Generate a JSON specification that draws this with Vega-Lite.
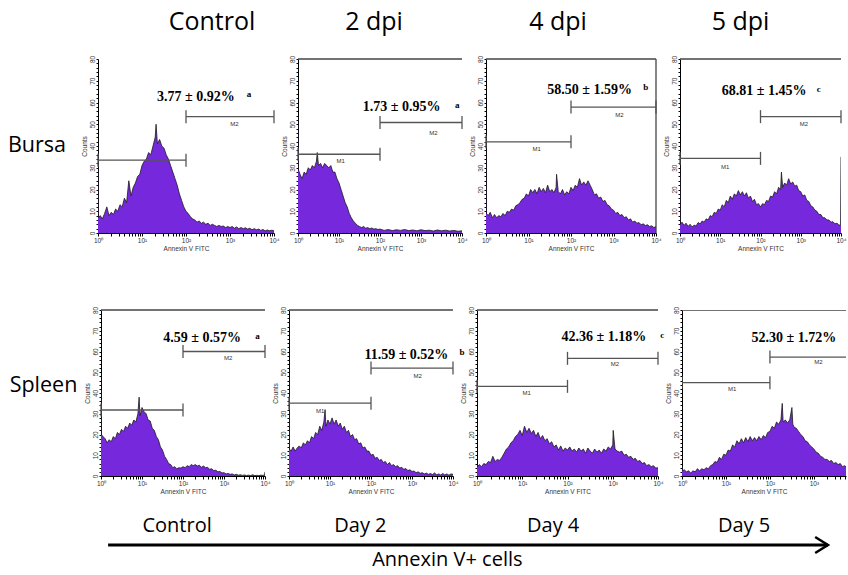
{
"$schema": "https://vega.github.io/schema/vega-lite/v6.json",
"background": "white",
"padding": {"left": 0, "top": 10, "right": 0, "bottom": 0},
"spacing": 21,
"vconcat": [
{"spacing": 54, "vconcat": [
{"bounds": "flush", "spacing": 24, "hconcat": [
{"width": 74, "height": 174, "data": {"values": [{"t": "Bursa"}]}, "mark": {"type": "text", "font": "Open Sans", "fontSize": 21.5, "color": "#000"}, "encoding": {"text": {"field": "t"}}},
{"width": 176, "height": 174, "title": {"text": "Control", "dx": 26},
"encoding": {"x": {"field": "e", "type": "quantitative", "scale": {"domain": [0, 4], "nice": false, "zero": false}, "axis": {"title": "Annexin V FITC", "values": [0,0.301,0.477,0.602,0.699,0.778,0.845,0.903,0.954,1,1.301,1.477,1.602,1.699,1.778,1.845,1.903,1.954,2,2.301,2.477,2.602,2.699,2.778,2.845,2.903,2.954,3,3.301,3.477,3.602,3.699,3.778,3.845,3.903,3.954,4], "labelExpr": "datum.value % 1 == 0 ? '10' + ['⁰','¹','²','³','⁴'][datum.value] : ''"}},
"y": {"field": "y", "type": "quantitative", "scale": {"domain": [0, 80], "nice": false}, "axis": {"title": "Counts", "values": [0,2,4,6,8,10,12,14,16,18,20,22,24,26,28,30,32,34,36,38,40,42,44,46,48,50,52,54,56,58,60,62,64,66,68,70,72,74,76,78,80], "labelExpr": "datum.value % 10 == 0 ? datum.label : ''"}}},
"layer": [
{"data": {"name": "hist"}, "transform": [{"filter": "datum.p == 'B1'"}], "mark": {"type": "area", "color": "#7629dc", "opacity": 1, "clip": true, "line": {"color": "#1a1a1a", "strokeWidth": 0.8}}},
{"data": {"name": "frames"}, "transform": [{"filter": "datum.p == 'B1'"}], "mark": {"type": "rule", "color": "#444", "strokeWidth": 1.3}, "encoding": {"x2": {"field": "e2"}}},
{"data": {"name": "gates"}, "transform": [{"filter": "datum.p == 'B1'"}], "mark": {"type": "rule", "color": "#555", "strokeWidth": 1.3}, "encoding": {"x2": {"field": "e2"}}},
{"data": {"name": "gates"}, "transform": [{"filter": "datum.p == 'B1'"}, {"fold": ["e", "e2"], "as": ["end", "e"]}], "mark": {"type": "tick", "orient": "vertical", "color": "#555", "thickness": 1.3, "size": 13, "opacity": 1}},
{"data": {"name": "glabels"}, "transform": [{"filter": "datum.p == 'B1'"}], "mark": {"type": "text", "font": "Liberation Sans", "fontSize": 6, "color": "#333"}, "encoding": {"text": {"field": "t"}}},
{"data": {"name": "ann"}, "transform": [{"filter": "datum.p == 'B1' && datum.k == 'main'"}], "mark": {"type": "text", "align": "left", "font": "Liberation Serif", "fontWeight": "bold", "fontSize": 14, "color": "#000"}, "encoding": {"text": {"field": "t"}}},
{"data": {"name": "ann"}, "transform": [{"filter": "datum.p == 'B1' && datum.k == 'sup'"}], "mark": {"type": "text", "align": "left", "font": "Liberation Serif", "fontWeight": "bold", "fontSize": 9, "color": "#000"}, "encoding": {"text": {"field": "t"}}}
]},
{"width": 164, "height": 174, "title": {"text": "2 dpi", "dx": -6},
"encoding": {"x": {"field": "e", "type": "quantitative", "scale": {"domain": [0, 4], "nice": false, "zero": false}, "axis": {"title": "Annexin V FITC", "values": [0,0.301,0.477,0.602,0.699,0.778,0.845,0.903,0.954,1,1.301,1.477,1.602,1.699,1.778,1.845,1.903,1.954,2,2.301,2.477,2.602,2.699,2.778,2.845,2.903,2.954,3,3.301,3.477,3.602,3.699,3.778,3.845,3.903,3.954,4], "labelExpr": "datum.value % 1 == 0 ? '10' + ['⁰','¹','²','³','⁴'][datum.value] : ''"}},
"y": {"field": "y", "type": "quantitative", "scale": {"domain": [0, 80], "nice": false}, "axis": {"title": "Counts", "values": [0,2,4,6,8,10,12,14,16,18,20,22,24,26,28,30,32,34,36,38,40,42,44,46,48,50,52,54,56,58,60,62,64,66,68,70,72,74,76,78,80], "labelExpr": "datum.value % 10 == 0 ? datum.label : ''"}}},
"layer": [
{"data": {"name": "hist"}, "transform": [{"filter": "datum.p == 'B2'"}], "mark": {"type": "area", "color": "#7629dc", "opacity": 1, "clip": true, "line": {"color": "#1a1a1a", "strokeWidth": 0.8}}},
{"data": {"name": "frames"}, "transform": [{"filter": "datum.p == 'B2'"}], "mark": {"type": "rule", "color": "#444", "strokeWidth": 1.3}, "encoding": {"x2": {"field": "e2"}}},
{"data": {"name": "gates"}, "transform": [{"filter": "datum.p == 'B2'"}], "mark": {"type": "rule", "color": "#555", "strokeWidth": 1.3}, "encoding": {"x2": {"field": "e2"}}},
{"data": {"name": "gates"}, "transform": [{"filter": "datum.p == 'B2'"}, {"fold": ["e", "e2"], "as": ["end", "e"]}], "mark": {"type": "tick", "orient": "vertical", "color": "#555", "thickness": 1.3, "size": 13, "opacity": 1}},
{"data": {"name": "glabels"}, "transform": [{"filter": "datum.p == 'B2'"}], "mark": {"type": "text", "font": "Liberation Sans", "fontSize": 6, "color": "#333"}, "encoding": {"text": {"field": "t"}}},
{"data": {"name": "ann"}, "transform": [{"filter": "datum.p == 'B2' && datum.k == 'main'"}], "mark": {"type": "text", "align": "left", "font": "Liberation Serif", "fontWeight": "bold", "fontSize": 14, "color": "#000"}, "encoding": {"text": {"field": "t"}}},
{"data": {"name": "ann"}, "transform": [{"filter": "datum.p == 'B2' && datum.k == 'sup'"}], "mark": {"type": "text", "align": "left", "font": "Liberation Serif", "fontWeight": "bold", "fontSize": 9, "color": "#000"}, "encoding": {"text": {"field": "t"}}}
]},
{"width": 170, "height": 174, "title": {"text": "4 dpi", "dx": -13},
"encoding": {"x": {"field": "e", "type": "quantitative", "scale": {"domain": [0, 4], "nice": false, "zero": false}, "axis": {"title": "Annexin V FITC", "values": [0,0.301,0.477,0.602,0.699,0.778,0.845,0.903,0.954,1,1.301,1.477,1.602,1.699,1.778,1.845,1.903,1.954,2,2.301,2.477,2.602,2.699,2.778,2.845,2.903,2.954,3,3.301,3.477,3.602,3.699,3.778,3.845,3.903,3.954,4], "labelExpr": "datum.value % 1 == 0 ? '10' + ['⁰','¹','²','³','⁴'][datum.value] : ''"}},
"y": {"field": "y", "type": "quantitative", "scale": {"domain": [0, 80], "nice": false}, "axis": {"title": "Counts", "values": [0,2,4,6,8,10,12,14,16,18,20,22,24,26,28,30,32,34,36,38,40,42,44,46,48,50,52,54,56,58,60,62,64,66,68,70,72,74,76,78,80], "labelExpr": "datum.value % 10 == 0 ? datum.label : ''"}}},
"layer": [
{"data": {"name": "hist"}, "transform": [{"filter": "datum.p == 'B3'"}], "mark": {"type": "area", "color": "#7629dc", "opacity": 1, "clip": true, "line": {"color": "#1a1a1a", "strokeWidth": 0.8}}},
{"data": {"name": "frames"}, "transform": [{"filter": "datum.p == 'B3'"}], "mark": {"type": "rule", "color": "#444", "strokeWidth": 1.3}, "encoding": {"x2": {"field": "e2"}}},
{"data": {"name": "vframes"}, "transform": [{"filter": "datum.p == 'B3'"}], "mark": {"type": "rule", "color": "#444", "strokeWidth": 1.3}, "encoding": {"y2": {"field": "y2"}}},
{"data": {"name": "gates"}, "transform": [{"filter": "datum.p == 'B3'"}], "mark": {"type": "rule", "color": "#555", "strokeWidth": 1.3}, "encoding": {"x2": {"field": "e2"}}},
{"data": {"name": "gates"}, "transform": [{"filter": "datum.p == 'B3'"}, {"fold": ["e", "e2"], "as": ["end", "e"]}], "mark": {"type": "tick", "orient": "vertical", "color": "#555", "thickness": 1.3, "size": 13, "opacity": 1}},
{"data": {"name": "glabels"}, "transform": [{"filter": "datum.p == 'B3'"}], "mark": {"type": "text", "font": "Liberation Sans", "fontSize": 6, "color": "#333"}, "encoding": {"text": {"field": "t"}}},
{"data": {"name": "ann"}, "transform": [{"filter": "datum.p == 'B3' && datum.k == 'main'"}], "mark": {"type": "text", "align": "left", "font": "Liberation Serif", "fontWeight": "bold", "fontSize": 14, "color": "#000"}, "encoding": {"text": {"field": "t"}}},
{"data": {"name": "ann"}, "transform": [{"filter": "datum.p == 'B3' && datum.k == 'sup'"}], "mark": {"type": "text", "align": "left", "font": "Liberation Serif", "fontWeight": "bold", "fontSize": 9, "color": "#000"}, "encoding": {"text": {"field": "t"}}}
]},
{"width": 161, "height": 174, "title": {"text": "5 dpi", "dx": -20},
"encoding": {"x": {"field": "e", "type": "quantitative", "scale": {"domain": [0, 4], "nice": false, "zero": false}, "axis": {"title": "Annexin V FITC", "values": [0,0.301,0.477,0.602,0.699,0.778,0.845,0.903,0.954,1,1.301,1.477,1.602,1.699,1.778,1.845,1.903,1.954,2,2.301,2.477,2.602,2.699,2.778,2.845,2.903,2.954,3,3.301,3.477,3.602,3.699,3.778,3.845,3.903,3.954,4], "labelExpr": "datum.value % 1 == 0 ? '10' + ['⁰','¹','²','³','⁴'][datum.value] : ''"}},
"y": {"field": "y", "type": "quantitative", "scale": {"domain": [0, 80], "nice": false}, "axis": {"title": "Counts", "values": [0,2,4,6,8,10,12,14,16,18,20,22,24,26,28,30,32,34,36,38,40,42,44,46,48,50,52,54,56,58,60,62,64,66,68,70,72,74,76,78,80], "labelExpr": "datum.value % 10 == 0 ? datum.label : ''"}}},
"layer": [
{"data": {"name": "hist"}, "transform": [{"filter": "datum.p == 'B4'"}], "mark": {"type": "area", "color": "#7629dc", "opacity": 1, "clip": true, "line": {"color": "#1a1a1a", "strokeWidth": 0.8}}},
{"data": {"name": "frames"}, "transform": [{"filter": "datum.p == 'B4'"}], "mark": {"type": "rule", "color": "#444", "strokeWidth": 1.3}, "encoding": {"x2": {"field": "e2"}}},
{"data": {"name": "gates"}, "transform": [{"filter": "datum.p == 'B4'"}], "mark": {"type": "rule", "color": "#555", "strokeWidth": 1.3}, "encoding": {"x2": {"field": "e2"}}},
{"data": {"name": "gates"}, "transform": [{"filter": "datum.p == 'B4'"}, {"fold": ["e", "e2"], "as": ["end", "e"]}], "mark": {"type": "tick", "orient": "vertical", "color": "#555", "thickness": 1.3, "size": 13, "opacity": 1}},
{"data": {"name": "glabels"}, "transform": [{"filter": "datum.p == 'B4'"}], "mark": {"type": "text", "font": "Liberation Sans", "fontSize": 6, "color": "#333"}, "encoding": {"text": {"field": "t"}}},
{"data": {"name": "ann"}, "transform": [{"filter": "datum.p == 'B4' && datum.k == 'main'"}], "mark": {"type": "text", "align": "left", "font": "Liberation Serif", "fontWeight": "bold", "fontSize": 14, "color": "#000"}, "encoding": {"text": {"field": "t"}}},
{"data": {"name": "ann"}, "transform": [{"filter": "datum.p == 'B4' && datum.k == 'sup'"}], "mark": {"type": "text", "align": "left", "font": "Liberation Serif", "fontWeight": "bold", "fontSize": 9, "color": "#000"}, "encoding": {"text": {"field": "t"}}}
]}
]},
{"bounds": "flush", "spacing": 24, "hconcat": [
{"width": 77, "height": 166, "data": {"values": [{"t": "Spleen"}]}, "mark": {"type": "text", "font": "Open Sans", "fontSize": 21.5, "color": "#000", "dx": 5, "dy": -7}, "encoding": {"text": {"field": "t"}}},
{"width": 164, "height": 166,
"encoding": {"x": {"field": "e", "type": "quantitative", "scale": {"domain": [0, 4], "nice": false, "zero": false}, "axis": {"title": "Annexin V FITC", "values": [0,0.301,0.477,0.602,0.699,0.778,0.845,0.903,0.954,1,1.301,1.477,1.602,1.699,1.778,1.845,1.903,1.954,2,2.301,2.477,2.602,2.699,2.778,2.845,2.903,2.954,3,3.301,3.477,3.602,3.699,3.778,3.845,3.903,3.954,4], "labelExpr": "datum.value % 1 == 0 ? '10' + ['⁰','¹','²','³','⁴'][datum.value] : ''"}},
"y": {"field": "y", "type": "quantitative", "scale": {"domain": [0, 80], "nice": false}, "axis": {"title": "Counts", "values": [0,2,4,6,8,10,12,14,16,18,20,22,24,26,28,30,32,34,36,38,40,42,44,46,48,50,52,54,56,58,60,62,64,66,68,70,72,74,76,78,80], "labelExpr": "datum.value % 10 == 0 ? datum.label : ''"}}},
"layer": [
{"data": {"name": "hist"}, "transform": [{"filter": "datum.p == 'S1'"}], "mark": {"type": "area", "color": "#7629dc", "opacity": 1, "clip": true, "line": {"color": "#1a1a1a", "strokeWidth": 0.8}}},
{"data": {"name": "frames"}, "transform": [{"filter": "datum.p == 'S1'"}], "mark": {"type": "rule", "color": "#444", "strokeWidth": 1.3}, "encoding": {"x2": {"field": "e2"}}},
{"data": {"name": "gates"}, "transform": [{"filter": "datum.p == 'S1'"}], "mark": {"type": "rule", "color": "#555", "strokeWidth": 1.3}, "encoding": {"x2": {"field": "e2"}}},
{"data": {"name": "gates"}, "transform": [{"filter": "datum.p == 'S1'"}, {"fold": ["e", "e2"], "as": ["end", "e"]}], "mark": {"type": "tick", "orient": "vertical", "color": "#555", "thickness": 1.3, "size": 13, "opacity": 1}},
{"data": {"name": "glabels"}, "transform": [{"filter": "datum.p == 'S1'"}], "mark": {"type": "text", "font": "Liberation Sans", "fontSize": 6, "color": "#333"}, "encoding": {"text": {"field": "t"}}},
{"data": {"name": "ann"}, "transform": [{"filter": "datum.p == 'S1' && datum.k == 'main'"}], "mark": {"type": "text", "align": "left", "font": "Liberation Serif", "fontWeight": "bold", "fontSize": 14, "color": "#000"}, "encoding": {"text": {"field": "t"}}},
{"data": {"name": "ann"}, "transform": [{"filter": "datum.p == 'S1' && datum.k == 'sup'"}], "mark": {"type": "text", "align": "left", "font": "Liberation Serif", "fontWeight": "bold", "fontSize": 9, "color": "#000"}, "encoding": {"text": {"field": "t"}}}
]},
{"width": 164, "height": 166,
"encoding": {"x": {"field": "e", "type": "quantitative", "scale": {"domain": [0, 4], "nice": false, "zero": false}, "axis": {"title": "Annexin V FITC", "values": [0,0.301,0.477,0.602,0.699,0.778,0.845,0.903,0.954,1,1.301,1.477,1.602,1.699,1.778,1.845,1.903,1.954,2,2.301,2.477,2.602,2.699,2.778,2.845,2.903,2.954,3,3.301,3.477,3.602,3.699,3.778,3.845,3.903,3.954,4], "labelExpr": "datum.value % 1 == 0 ? '10' + ['⁰','¹','²','³','⁴'][datum.value] : ''"}},
"y": {"field": "y", "type": "quantitative", "scale": {"domain": [0, 80], "nice": false}, "axis": {"title": "Counts", "values": [0,2,4,6,8,10,12,14,16,18,20,22,24,26,28,30,32,34,36,38,40,42,44,46,48,50,52,54,56,58,60,62,64,66,68,70,72,74,76,78,80], "labelExpr": "datum.value % 10 == 0 ? datum.label : ''"}}},
"layer": [
{"data": {"name": "hist"}, "transform": [{"filter": "datum.p == 'S2'"}], "mark": {"type": "area", "color": "#7629dc", "opacity": 1, "clip": true, "line": {"color": "#1a1a1a", "strokeWidth": 0.8}}},
{"data": {"name": "frames"}, "transform": [{"filter": "datum.p == 'S2'"}], "mark": {"type": "rule", "color": "#444", "strokeWidth": 1.3}, "encoding": {"x2": {"field": "e2"}}},
{"data": {"name": "gates"}, "transform": [{"filter": "datum.p == 'S2'"}], "mark": {"type": "rule", "color": "#555", "strokeWidth": 1.3}, "encoding": {"x2": {"field": "e2"}}},
{"data": {"name": "gates"}, "transform": [{"filter": "datum.p == 'S2'"}, {"fold": ["e", "e2"], "as": ["end", "e"]}], "mark": {"type": "tick", "orient": "vertical", "color": "#555", "thickness": 1.3, "size": 13, "opacity": 1}},
{"data": {"name": "glabels"}, "transform": [{"filter": "datum.p == 'S2'"}], "mark": {"type": "text", "font": "Liberation Sans", "fontSize": 6, "color": "#333"}, "encoding": {"text": {"field": "t"}}},
{"data": {"name": "ann"}, "transform": [{"filter": "datum.p == 'S2' && datum.k == 'main'"}], "mark": {"type": "text", "align": "left", "font": "Liberation Serif", "fontWeight": "bold", "fontSize": 14, "color": "#000"}, "encoding": {"text": {"field": "t"}}},
{"data": {"name": "ann"}, "transform": [{"filter": "datum.p == 'S2' && datum.k == 'sup'"}], "mark": {"type": "text", "align": "left", "font": "Liberation Serif", "fontWeight": "bold", "fontSize": 9, "color": "#000"}, "encoding": {"text": {"field": "t"}}}
]},
{"width": 181, "height": 166,
"encoding": {"x": {"field": "e", "type": "quantitative", "scale": {"domain": [0, 4], "nice": false, "zero": false}, "axis": {"title": "Annexin V FITC", "values": [0,0.301,0.477,0.602,0.699,0.778,0.845,0.903,0.954,1,1.301,1.477,1.602,1.699,1.778,1.845,1.903,1.954,2,2.301,2.477,2.602,2.699,2.778,2.845,2.903,2.954,3,3.301,3.477,3.602,3.699,3.778,3.845,3.903,3.954,4], "labelExpr": "datum.value % 1 == 0 ? '10' + ['⁰','¹','²','³','⁴'][datum.value] : ''"}},
"y": {"field": "y", "type": "quantitative", "scale": {"domain": [0, 80], "nice": false}, "axis": {"title": "Counts", "values": [0,2,4,6,8,10,12,14,16,18,20,22,24,26,28,30,32,34,36,38,40,42,44,46,48,50,52,54,56,58,60,62,64,66,68,70,72,74,76,78,80], "labelExpr": "datum.value % 10 == 0 ? datum.label : ''"}}},
"layer": [
{"data": {"name": "hist"}, "transform": [{"filter": "datum.p == 'S3'"}], "mark": {"type": "area", "color": "#7629dc", "opacity": 1, "clip": true, "line": {"color": "#1a1a1a", "strokeWidth": 0.8}}},
{"data": {"name": "frames"}, "transform": [{"filter": "datum.p == 'S3'"}], "mark": {"type": "rule", "color": "#444", "strokeWidth": 1.3}, "encoding": {"x2": {"field": "e2"}}},
{"data": {"name": "gates"}, "transform": [{"filter": "datum.p == 'S3'"}], "mark": {"type": "rule", "color": "#555", "strokeWidth": 1.3}, "encoding": {"x2": {"field": "e2"}}},
{"data": {"name": "gates"}, "transform": [{"filter": "datum.p == 'S3'"}, {"fold": ["e", "e2"], "as": ["end", "e"]}], "mark": {"type": "tick", "orient": "vertical", "color": "#555", "thickness": 1.3, "size": 13, "opacity": 1}},
{"data": {"name": "glabels"}, "transform": [{"filter": "datum.p == 'S3'"}], "mark": {"type": "text", "font": "Liberation Sans", "fontSize": 6, "color": "#333"}, "encoding": {"text": {"field": "t"}}},
{"data": {"name": "ann"}, "transform": [{"filter": "datum.p == 'S3' && datum.k == 'main'"}], "mark": {"type": "text", "align": "left", "font": "Liberation Serif", "fontWeight": "bold", "fontSize": 14, "color": "#000"}, "encoding": {"text": {"field": "t"}}},
{"data": {"name": "ann"}, "transform": [{"filter": "datum.p == 'S3' && datum.k == 'sup'"}], "mark": {"type": "text", "align": "left", "font": "Liberation Serif", "fontWeight": "bold", "fontSize": 9, "color": "#000"}, "encoding": {"text": {"field": "t"}}}
]},
{"width": 164, "height": 166,
"encoding": {"x": {"field": "e", "type": "quantitative", "scale": {"domain": [0, 3.73], "nice": false, "zero": false}, "axis": {"title": "Annexin V FITC", "values": [0,0.301,0.477,0.602,0.699,0.778,0.845,0.903,0.954,1,1.301,1.477,1.602,1.699,1.778,1.845,1.903,1.954,2,2.301,2.477,2.602,2.699,2.778,2.845,2.903,2.954,3,3.301,3.477,3.602,3.699], "labelExpr": "datum.value % 1 == 0 ? '10' + ['⁰','¹','²','³','⁴'][datum.value] : ''"}},
"y": {"field": "y", "type": "quantitative", "scale": {"domain": [0, 80], "nice": false}, "axis": {"title": "Counts", "values": [0,2,4,6,8,10,12,14,16,18,20,22,24,26,28,30,32,34,36,38,40,42,44,46,48,50,52,54,56,58,60,62,64,66,68,70,72,74,76,78,80], "labelExpr": "datum.value % 10 == 0 ? datum.label : ''"}}},
"layer": [
{"data": {"name": "hist"}, "transform": [{"filter": "datum.p == 'S4'"}], "mark": {"type": "area", "color": "#7629dc", "opacity": 1, "clip": true, "line": {"color": "#1a1a1a", "strokeWidth": 0.8}}},
{"data": {"name": "frames"}, "transform": [{"filter": "datum.p == 'S4'"}], "mark": {"type": "rule", "color": "#444", "strokeWidth": 1.3, "clip": true}, "encoding": {"x2": {"field": "e2"}}},
{"data": {"name": "gates"}, "transform": [{"filter": "datum.p == 'S4'"}], "mark": {"type": "rule", "color": "#555", "strokeWidth": 1.3, "clip": true}, "encoding": {"x2": {"field": "e2"}}},
{"data": {"name": "gates"}, "transform": [{"filter": "datum.p == 'S4'"}, {"fold": ["e", "e2"], "as": ["end", "e"]}], "mark": {"type": "tick", "orient": "vertical", "color": "#555", "thickness": 1.3, "size": 13, "opacity": 1, "clip": true}},
{"data": {"name": "glabels"}, "transform": [{"filter": "datum.p == 'S4'"}], "mark": {"type": "text", "font": "Liberation Sans", "fontSize": 6, "color": "#333"}, "encoding": {"text": {"field": "t"}}},
{"data": {"name": "ann"}, "transform": [{"filter": "datum.p == 'S4' && datum.k == 'main'"}], "mark": {"type": "text", "align": "left", "font": "Liberation Serif", "fontWeight": "bold", "fontSize": 14, "color": "#000"}, "encoding": {"text": {"field": "t"}}}
]}
]}
]},
{"width": 848, "height": 50,
"encoding": {"x": {"field": "c", "type": "quantitative", "scale": {"domain": [-0.937, 3.55], "nice": false, "zero": false}, "axis": null},
"y": {"field": "r", "type": "quantitative", "scale": {"domain": [-0.158, 2.474], "nice": false, "zero": false}, "axis": null}},
"layer": [
{"data": {"name": "days"}, "mark": {"type": "text", "font": "Open Sans", "fontSize": 20, "color": "#000"}, "encoding": {"text": {"field": "t"}}},
{"data": {"name": "arrow"}, "mark": {"type": "rule", "strokeWidth": 3, "color": "#000"}, "encoding": {"x2": {"field": "c2"}}},
{"data": {"name": "arrow"}, "mark": {"type": "point", "shape": "M-1.6,-1L0,0L-1.6,1", "size": 256, "filled": false, "strokeWidth": 2.5, "color": "#000", "opacity": 1}, "encoding": {"x": {"field": "c2", "type": "quantitative", "axis": null}}}
]}
],
"datasets": {
"days": [{"t": "Control", "c": 0, "r": 2}, {"t": "Day 2", "c": 0.97, "r": 2}, {"t": "Day 4", "c": 1.99, "r": 2}, {"t": "Day 5", "c": 3.0, "r": 2}, {"t": "Annexin V+ cells", "c": 1.43, "r": 0.2}],
"arrow": [{"c": -0.365, "c2": 3.444, "r": 1}],
"frames": [{"p": "B2", "e": 0, "e2": 4, "y": 80}, {"p": "B3", "e": 0, "e2": 4, "y": 80}, {"p": "B4", "e": 0, "e2": 4, "y": 80}, {"p": "S1", "e": 0, "e2": 4, "y": 80}, {"p": "S2", "e": 0, "e2": 4, "y": 80}, {"p": "S3", "e": 0, "e2": 4, "y": 80}, {"p": "S4", "e": 0, "e2": 4, "y": 80}],
"vframes": [{"p": "B3", "e": 4, "y": 0, "y2": 80}],
"gates": [
{"p": "B1", "g": "M1", "e": 0, "e2": 2, "y": 33.5}, {"p": "B1", "g": "M2", "e": 2, "e2": 4, "y": 53.5},
{"p": "B2", "g": "M1", "e": 0, "e2": 2, "y": 36.2}, {"p": "B2", "g": "M2", "e": 2, "e2": 4, "y": 50.8},
{"p": "B3", "g": "M1", "e": 0, "e2": 2, "y": 41.9}, {"p": "B3", "g": "M2", "e": 2, "e2": 4, "y": 57.9},
{"p": "B4", "g": "M1", "e": 0, "e2": 2, "y": 34.3}, {"p": "B4", "g": "M2", "e": 2, "e2": 4, "y": 53.5},
{"p": "S1", "g": "M1", "e": 0, "e2": 2, "y": 31.8}, {"p": "S1", "g": "M2", "e": 2, "e2": 4, "y": 60},
{"p": "S2", "g": "M1", "e": 0, "e2": 2, "y": 35.1}, {"p": "S2", "g": "M2", "e": 2, "e2": 4, "y": 52},
{"p": "S3", "g": "M1", "e": 0, "e2": 2, "y": 43.2}, {"p": "S3", "g": "M2", "e": 2, "e2": 4, "y": 56.7},
{"p": "S4", "g": "M1", "e": 0, "e2": 2, "y": 45}, {"p": "S4", "g": "M2", "e": 2, "e2": 4, "y": 57.3}
],
"glabels": [
{"p": "B1", "t": "M2", "e": 3.1, "y": 50.3},
{"p": "B2", "t": "M1", "e": 1.04, "y": 33.3}, {"p": "B2", "t": "M2", "e": 3.3, "y": 46.2},
{"p": "B3", "t": "M1", "e": 1.19, "y": 38.4}, {"p": "B3", "t": "M2", "e": 3.14, "y": 54.1},
{"p": "B4", "t": "M1", "e": 1.12, "y": 30.3}, {"p": "B4", "t": "M2", "e": 3.08, "y": 50},
{"p": "S1", "t": "M2", "e": 3.1, "y": 56.8},
{"p": "S2", "t": "M1", "e": 0.76, "y": 31.3}, {"p": "S2", "t": "M2", "e": 3.14, "y": 48.4},
{"p": "S3", "t": "M1", "e": 1.1, "y": 40.2}, {"p": "S3", "t": "M2", "e": 3.05, "y": 54},
{"p": "S4", "t": "M1", "e": 1.14, "y": 41.7}, {"p": "S4", "t": "M2", "e": 3.1, "y": 54.7}
],
"ann": [
{"p": "B1", "k": "main", "t": "3.77 ± 0.92%", "e": 1.34, "y": 62.4}, {"p": "B1", "k": "sup", "t": "a", "e": 3.38, "y": 63.9},
{"p": "B2", "k": "main", "t": "1.73 ± 0.95%", "e": 1.58, "y": 58.1}, {"p": "B2", "k": "sup", "t": "a", "e": 3.83, "y": 59},
{"p": "B3", "k": "main", "t": "58.50 ± 1.59%", "e": 1.44, "y": 65.7}, {"p": "B3", "k": "sup", "t": "b", "e": 3.7, "y": 67},
{"p": "B4", "k": "main", "t": "68.81 ± 1.45%", "e": 1.04, "y": 65.4}, {"p": "B4", "k": "sup", "t": "c", "e": 3.4, "y": 66.2},
{"p": "S1", "k": "main", "t": "4.59 ± 0.57%", "e": 1.52, "y": 66.5}, {"p": "S1", "k": "sup", "t": "a", "e": 3.76, "y": 67.6},
{"p": "S2", "k": "main", "t": "11.59 ± 0.52%", "e": 1.84, "y": 58.5}, {"p": "S2", "k": "sup", "t": "b", "e": 4.16, "y": 59.8},
{"p": "S3", "k": "main", "t": "42.36 ± 1.18%", "e": 1.87, "y": 66.8}, {"p": "S3", "k": "sup", "t": "c", "e": 4.05, "y": 68.1},
{"p": "S4", "k": "main", "t": "52.30 ± 1.72%", "e": 1.58, "y": 66.5}
],
"hist": [
{"p":"B1","e":0,"y":44},{"p":"B1","e":0.01,"y":7},{"p":"B1","e":0.05,"y":8},{"p":"B1","e":0.1,"y":6.5},{"p":"B1","e":0.15,"y":9},{"p":"B1","e":0.2,"y":12},{"p":"B1","e":0.25,"y":8},{"p":"B1","e":0.3,"y":9.5},{"p":"B1","e":0.35,"y":8.5},{"p":"B1","e":0.4,"y":11},{"p":"B1","e":0.45,"y":10},{"p":"B1","e":0.5,"y":13},{"p":"B1","e":0.55,"y":12},{"p":"B1","e":0.6,"y":16},{"p":"B1","e":0.65,"y":14},{"p":"B1","e":0.7,"y":24},{"p":"B1","e":0.75,"y":17},{"p":"B1","e":0.8,"y":21},{"p":"B1","e":0.85,"y":23},{"p":"B1","e":0.9,"y":26},{"p":"B1","e":0.95,"y":27},{"p":"B1","e":1,"y":31},{"p":"B1","e":1.05,"y":33},{"p":"B1","e":1.1,"y":34},{"p":"B1","e":1.15,"y":37},{"p":"B1","e":1.2,"y":36},{"p":"B1","e":1.25,"y":40},{"p":"B1","e":1.3,"y":44},{"p":"B1","e":1.32,"y":50},{"p":"B1","e":1.35,"y":41},{"p":"B1","e":1.4,"y":43},{"p":"B1","e":1.45,"y":40},{"p":"B1","e":1.5,"y":39},{"p":"B1","e":1.55,"y":36},{"p":"B1","e":1.6,"y":34},{"p":"B1","e":1.65,"y":31},{"p":"B1","e":1.7,"y":28},{"p":"B1","e":1.75,"y":25},{"p":"B1","e":1.8,"y":22},{"p":"B1","e":1.85,"y":18},{"p":"B1","e":1.9,"y":15},{"p":"B1","e":1.95,"y":12},{"p":"B1","e":2,"y":10},{"p":"B1","e":2.05,"y":9},{"p":"B1","e":2.1,"y":7.5},{"p":"B1","e":2.15,"y":6.5},{"p":"B1","e":2.2,"y":6},{"p":"B1","e":2.25,"y":5},{"p":"B1","e":2.3,"y":5.5},{"p":"B1","e":2.35,"y":4.5},{"p":"B1","e":2.4,"y":5},{"p":"B1","e":2.45,"y":4},{"p":"B1","e":2.5,"y":4.5},{"p":"B1","e":2.55,"y":3.5},{"p":"B1","e":2.6,"y":4},{"p":"B1","e":2.65,"y":3.5},{"p":"B1","e":2.7,"y":3},{"p":"B1","e":2.75,"y":3.5},{"p":"B1","e":2.8,"y":3},{"p":"B1","e":2.85,"y":3.2},{"p":"B1","e":2.9,"y":2.5},{"p":"B1","e":2.95,"y":3},{"p":"B1","e":3,"y":2.5},{"p":"B1","e":3.05,"y":3},{"p":"B1","e":3.1,"y":2.2},{"p":"B1","e":3.15,"y":2.8},{"p":"B1","e":3.2,"y":2},{"p":"B1","e":3.25,"y":2.5},{"p":"B1","e":3.3,"y":2},{"p":"B1","e":3.35,"y":2.4},{"p":"B1","e":3.4,"y":1.8},{"p":"B1","e":3.45,"y":2.2},{"p":"B1","e":3.5,"y":1.5},{"p":"B1","e":3.55,"y":2},{"p":"B1","e":3.6,"y":1.5},{"p":"B1","e":3.65,"y":1.8},{"p":"B1","e":3.7,"y":1.2},{"p":"B1","e":3.75,"y":1.6},{"p":"B1","e":3.8,"y":1},{"p":"B1","e":3.85,"y":1.4},{"p":"B1","e":3.9,"y":1},{"p":"B1","e":3.95,"y":1.3},{"p":"B1","e":4,"y":1},
{"p":"B2","e":0,"y":54},{"p":"B2","e":0.01,"y":29},{"p":"B2","e":0.05,"y":27},{"p":"B2","e":0.1,"y":25},{"p":"B2","e":0.15,"y":28},{"p":"B2","e":0.2,"y":27},{"p":"B2","e":0.25,"y":30},{"p":"B2","e":0.3,"y":29},{"p":"B2","e":0.35,"y":31},{"p":"B2","e":0.4,"y":30},{"p":"B2","e":0.45,"y":33},{"p":"B2","e":0.47,"y":37},{"p":"B2","e":0.5,"y":31},{"p":"B2","e":0.55,"y":32},{"p":"B2","e":0.6,"y":30},{"p":"B2","e":0.65,"y":32},{"p":"B2","e":0.7,"y":31},{"p":"B2","e":0.75,"y":30},{"p":"B2","e":0.8,"y":31},{"p":"B2","e":0.85,"y":28},{"p":"B2","e":0.9,"y":28},{"p":"B2","e":0.95,"y":25},{"p":"B2","e":1,"y":23},{"p":"B2","e":1.05,"y":20},{"p":"B2","e":1.1,"y":17},{"p":"B2","e":1.15,"y":14},{"p":"B2","e":1.2,"y":12},{"p":"B2","e":1.25,"y":9},{"p":"B2","e":1.3,"y":7},{"p":"B2","e":1.35,"y":5.5},{"p":"B2","e":1.4,"y":4.5},{"p":"B2","e":1.45,"y":3.5},{"p":"B2","e":1.5,"y":3},{"p":"B2","e":1.55,"y":2.5},{"p":"B2","e":1.6,"y":3},{"p":"B2","e":1.65,"y":2.2},{"p":"B2","e":1.7,"y":2.5},{"p":"B2","e":1.75,"y":2},{"p":"B2","e":1.8,"y":2.3},{"p":"B2","e":1.85,"y":1.8},{"p":"B2","e":1.9,"y":2},{"p":"B2","e":1.95,"y":1.6},{"p":"B2","e":2,"y":1.8},{"p":"B2","e":2.1,"y":1.2},{"p":"B2","e":2.2,"y":1.6},{"p":"B2","e":2.3,"y":1.1},{"p":"B2","e":2.4,"y":1.5},{"p":"B2","e":2.5,"y":1.2},{"p":"B2","e":2.6,"y":1.6},{"p":"B2","e":2.7,"y":1.1},{"p":"B2","e":2.8,"y":1.4},{"p":"B2","e":2.9,"y":1},{"p":"B2","e":3,"y":1.5},{"p":"B2","e":3.1,"y":1.1},{"p":"B2","e":3.2,"y":1.3},{"p":"B2","e":3.3,"y":0.9},{"p":"B2","e":3.4,"y":1.4},{"p":"B2","e":3.5,"y":1},{"p":"B2","e":3.6,"y":1.3},{"p":"B2","e":3.7,"y":0.9},{"p":"B2","e":3.8,"y":1.2},{"p":"B2","e":3.9,"y":0.8},{"p":"B2","e":4,"y":1},
{"p":"B3","e":0,"y":46},{"p":"B3","e":0.01,"y":9},{"p":"B3","e":0.05,"y":8},{"p":"B3","e":0.1,"y":9.5},{"p":"B3","e":0.15,"y":7},{"p":"B3","e":0.2,"y":8.5},{"p":"B3","e":0.25,"y":7},{"p":"B3","e":0.3,"y":8},{"p":"B3","e":0.35,"y":7.5},{"p":"B3","e":0.4,"y":9},{"p":"B3","e":0.45,"y":8},{"p":"B3","e":0.5,"y":10},{"p":"B3","e":0.55,"y":9.5},{"p":"B3","e":0.6,"y":11},{"p":"B3","e":0.65,"y":10.5},{"p":"B3","e":0.7,"y":12.5},{"p":"B3","e":0.75,"y":13},{"p":"B3","e":0.8,"y":14},{"p":"B3","e":0.85,"y":15.5},{"p":"B3","e":0.9,"y":16},{"p":"B3","e":0.95,"y":18},{"p":"B3","e":1,"y":17},{"p":"B3","e":1.05,"y":20},{"p":"B3","e":1.1,"y":18.5},{"p":"B3","e":1.15,"y":20},{"p":"B3","e":1.2,"y":18},{"p":"B3","e":1.25,"y":21},{"p":"B3","e":1.3,"y":19},{"p":"B3","e":1.35,"y":20.5},{"p":"B3","e":1.4,"y":18.5},{"p":"B3","e":1.45,"y":22},{"p":"B3","e":1.5,"y":19},{"p":"B3","e":1.55,"y":20},{"p":"B3","e":1.6,"y":18.5},{"p":"B3","e":1.65,"y":21},{"p":"B3","e":1.66,"y":27},{"p":"B3","e":1.7,"y":19},{"p":"B3","e":1.75,"y":18},{"p":"B3","e":1.8,"y":20},{"p":"B3","e":1.85,"y":17.5},{"p":"B3","e":1.9,"y":19},{"p":"B3","e":1.95,"y":18},{"p":"B3","e":2,"y":21},{"p":"B3","e":2.05,"y":19.5},{"p":"B3","e":2.1,"y":22},{"p":"B3","e":2.15,"y":21},{"p":"B3","e":2.2,"y":25},{"p":"B3","e":2.25,"y":22},{"p":"B3","e":2.3,"y":23.5},{"p":"B3","e":2.35,"y":22},{"p":"B3","e":2.4,"y":24},{"p":"B3","e":2.45,"y":22},{"p":"B3","e":2.5,"y":20},{"p":"B3","e":2.55,"y":17.5},{"p":"B3","e":2.6,"y":18},{"p":"B3","e":2.65,"y":16},{"p":"B3","e":2.7,"y":16.5},{"p":"B3","e":2.75,"y":14.5},{"p":"B3","e":2.8,"y":15},{"p":"B3","e":2.85,"y":13},{"p":"B3","e":2.9,"y":12.5},{"p":"B3","e":2.95,"y":11},{"p":"B3","e":3,"y":10.5},{"p":"B3","e":3.05,"y":9},{"p":"B3","e":3.1,"y":9.5},{"p":"B3","e":3.15,"y":8},{"p":"B3","e":3.2,"y":8.5},{"p":"B3","e":3.25,"y":7},{"p":"B3","e":3.3,"y":7.5},{"p":"B3","e":3.35,"y":6},{"p":"B3","e":3.4,"y":6.5},{"p":"B3","e":3.45,"y":5},{"p":"B3","e":3.5,"y":5.5},{"p":"B3","e":3.55,"y":4.5},{"p":"B3","e":3.6,"y":4.8},{"p":"B3","e":3.65,"y":3.8},{"p":"B3","e":3.7,"y":4.2},{"p":"B3","e":3.75,"y":3.4},{"p":"B3","e":3.8,"y":3.8},{"p":"B3","e":3.85,"y":3},{"p":"B3","e":3.9,"y":3.3},{"p":"B3","e":3.95,"y":2.5},{"p":"B3","e":4,"y":3},
{"p":"B4","e":0,"y":42},{"p":"B4","e":0.01,"y":4},{"p":"B4","e":0.05,"y":5},{"p":"B4","e":0.1,"y":3.5},{"p":"B4","e":0.15,"y":4.5},{"p":"B4","e":0.2,"y":3},{"p":"B4","e":0.25,"y":4},{"p":"B4","e":0.3,"y":2.8},{"p":"B4","e":0.35,"y":3.6},{"p":"B4","e":0.4,"y":3.2},{"p":"B4","e":0.45,"y":4.8},{"p":"B4","e":0.5,"y":4.2},{"p":"B4","e":0.55,"y":5.5},{"p":"B4","e":0.6,"y":5},{"p":"B4","e":0.65,"y":6.5},{"p":"B4","e":0.7,"y":6},{"p":"B4","e":0.75,"y":8},{"p":"B4","e":0.8,"y":7.5},{"p":"B4","e":0.85,"y":9.5},{"p":"B4","e":0.9,"y":9},{"p":"B4","e":0.95,"y":11},{"p":"B4","e":1,"y":10.5},{"p":"B4","e":1.05,"y":13},{"p":"B4","e":1.1,"y":12},{"p":"B4","e":1.15,"y":15},{"p":"B4","e":1.2,"y":14},{"p":"B4","e":1.25,"y":17},{"p":"B4","e":1.3,"y":15.5},{"p":"B4","e":1.35,"y":18},{"p":"B4","e":1.4,"y":17},{"p":"B4","e":1.45,"y":19.5},{"p":"B4","e":1.5,"y":17.5},{"p":"B4","e":1.55,"y":19},{"p":"B4","e":1.6,"y":17},{"p":"B4","e":1.65,"y":18.5},{"p":"B4","e":1.7,"y":16},{"p":"B4","e":1.75,"y":17},{"p":"B4","e":1.8,"y":14.5},{"p":"B4","e":1.85,"y":15.5},{"p":"B4","e":1.9,"y":13},{"p":"B4","e":1.95,"y":13.5},{"p":"B4","e":2,"y":12},{"p":"B4","e":2.05,"y":13.5},{"p":"B4","e":2.1,"y":13},{"p":"B4","e":2.15,"y":15},{"p":"B4","e":2.2,"y":14.5},{"p":"B4","e":2.25,"y":17},{"p":"B4","e":2.3,"y":16.5},{"p":"B4","e":2.35,"y":19},{"p":"B4","e":2.4,"y":18},{"p":"B4","e":2.45,"y":21},{"p":"B4","e":2.5,"y":20},{"p":"B4","e":2.52,"y":28},{"p":"B4","e":2.55,"y":21},{"p":"B4","e":2.6,"y":23},{"p":"B4","e":2.65,"y":22},{"p":"B4","e":2.7,"y":25},{"p":"B4","e":2.75,"y":22.5},{"p":"B4","e":2.8,"y":23.5},{"p":"B4","e":2.85,"y":21.5},{"p":"B4","e":2.9,"y":22},{"p":"B4","e":2.95,"y":19.5},{"p":"B4","e":3,"y":19},{"p":"B4","e":3.05,"y":17},{"p":"B4","e":3.1,"y":17.5},{"p":"B4","e":3.15,"y":15},{"p":"B4","e":3.2,"y":14.5},{"p":"B4","e":3.25,"y":12.5},{"p":"B4","e":3.3,"y":12},{"p":"B4","e":3.35,"y":10.5},{"p":"B4","e":3.4,"y":10},{"p":"B4","e":3.45,"y":8.5},{"p":"B4","e":3.5,"y":8.5},{"p":"B4","e":3.55,"y":7},{"p":"B4","e":3.6,"y":7},{"p":"B4","e":3.65,"y":6},{"p":"B4","e":3.7,"y":6},{"p":"B4","e":3.75,"y":5},{"p":"B4","e":3.8,"y":5.2},{"p":"B4","e":3.85,"y":4.2},{"p":"B4","e":3.9,"y":4.5},{"p":"B4","e":3.95,"y":3.6},{"p":"B4","e":3.99,"y":3.8},{"p":"B4","e":4,"y":35},
{"p":"S1","e":0,"y":50},{"p":"S1","e":0.01,"y":20},{"p":"S1","e":0.05,"y":19},{"p":"S1","e":0.1,"y":18},{"p":"S1","e":0.15,"y":16},{"p":"S1","e":0.2,"y":17.5},{"p":"S1","e":0.25,"y":16.5},{"p":"S1","e":0.3,"y":19},{"p":"S1","e":0.35,"y":18},{"p":"S1","e":0.4,"y":21},{"p":"S1","e":0.45,"y":20},{"p":"S1","e":0.5,"y":22.5},{"p":"S1","e":0.55,"y":21.5},{"p":"S1","e":0.6,"y":24},{"p":"S1","e":0.65,"y":23},{"p":"S1","e":0.7,"y":25.5},{"p":"S1","e":0.75,"y":24.5},{"p":"S1","e":0.8,"y":27},{"p":"S1","e":0.85,"y":26},{"p":"S1","e":0.9,"y":30},{"p":"S1","e":0.93,"y":38},{"p":"S1","e":0.95,"y":29},{"p":"S1","e":1,"y":33},{"p":"S1","e":1.05,"y":31},{"p":"S1","e":1.1,"y":30},{"p":"S1","e":1.15,"y":27},{"p":"S1","e":1.2,"y":26.5},{"p":"S1","e":1.25,"y":23},{"p":"S1","e":1.3,"y":22},{"p":"S1","e":1.35,"y":19},{"p":"S1","e":1.4,"y":17.5},{"p":"S1","e":1.45,"y":14},{"p":"S1","e":1.5,"y":12.5},{"p":"S1","e":1.55,"y":9.5},{"p":"S1","e":1.6,"y":8},{"p":"S1","e":1.65,"y":6},{"p":"S1","e":1.7,"y":5.5},{"p":"S1","e":1.75,"y":4},{"p":"S1","e":1.8,"y":4.5},{"p":"S1","e":1.85,"y":3.5},{"p":"S1","e":1.9,"y":4},{"p":"S1","e":1.95,"y":3.8},{"p":"S1","e":2,"y":4.5},{"p":"S1","e":2.05,"y":4},{"p":"S1","e":2.1,"y":5},{"p":"S1","e":2.15,"y":4.5},{"p":"S1","e":2.2,"y":5.5},{"p":"S1","e":2.25,"y":5},{"p":"S1","e":2.3,"y":5.5},{"p":"S1","e":2.35,"y":4.8},{"p":"S1","e":2.4,"y":5.2},{"p":"S1","e":2.45,"y":4.2},{"p":"S1","e":2.5,"y":4.8},{"p":"S1","e":2.55,"y":4},{"p":"S1","e":2.6,"y":4.2},{"p":"S1","e":2.65,"y":3.2},{"p":"S1","e":2.7,"y":3.5},{"p":"S1","e":2.75,"y":2.6},{"p":"S1","e":2.8,"y":2.8},{"p":"S1","e":2.85,"y":2},{"p":"S1","e":2.9,"y":2.2},{"p":"S1","e":2.95,"y":1.5},{"p":"S1","e":3,"y":1.6},{"p":"S1","e":3.05,"y":1},{"p":"S1","e":3.1,"y":1.2},{"p":"S1","e":3.15,"y":0.8},{"p":"S1","e":3.2,"y":1},{"p":"S1","e":3.25,"y":0.5},{"p":"S1","e":3.3,"y":0.8},{"p":"S1","e":3.35,"y":0.4},{"p":"S1","e":3.4,"y":0.6},{"p":"S1","e":3.45,"y":0.3},{"p":"S1","e":3.5,"y":0.5},{"p":"S1","e":3.55,"y":0.2},{"p":"S1","e":3.6,"y":0.4},{"p":"S1","e":3.65,"y":0.2},{"p":"S1","e":3.7,"y":0.6},{"p":"S1","e":3.75,"y":0.2},{"p":"S1","e":3.8,"y":0.3},{"p":"S1","e":3.85,"y":0.2},{"p":"S1","e":3.9,"y":0.4},{"p":"S1","e":3.95,"y":0.3},{"p":"S1","e":3.99,"y":0.5},{"p":"S1","e":4,"y":2},
{"p":"S2","e":0,"y":47},{"p":"S2","e":0.01,"y":13},{"p":"S2","e":0.05,"y":12},{"p":"S2","e":0.1,"y":14},{"p":"S2","e":0.15,"y":12},{"p":"S2","e":0.2,"y":13.5},{"p":"S2","e":0.25,"y":14.5},{"p":"S2","e":0.3,"y":13.5},{"p":"S2","e":0.35,"y":16},{"p":"S2","e":0.4,"y":15},{"p":"S2","e":0.45,"y":17},{"p":"S2","e":0.5,"y":16},{"p":"S2","e":0.55,"y":19},{"p":"S2","e":0.6,"y":18},{"p":"S2","e":0.65,"y":21},{"p":"S2","e":0.7,"y":20},{"p":"S2","e":0.75,"y":24},{"p":"S2","e":0.8,"y":22},{"p":"S2","e":0.85,"y":26},{"p":"S2","e":0.88,"y":32},{"p":"S2","e":0.9,"y":24},{"p":"S2","e":0.95,"y":27},{"p":"S2","e":1,"y":25},{"p":"S2","e":1.05,"y":28},{"p":"S2","e":1.1,"y":25},{"p":"S2","e":1.15,"y":27},{"p":"S2","e":1.2,"y":24},{"p":"S2","e":1.25,"y":25.5},{"p":"S2","e":1.3,"y":22.5},{"p":"S2","e":1.35,"y":24},{"p":"S2","e":1.4,"y":21},{"p":"S2","e":1.45,"y":22},{"p":"S2","e":1.5,"y":19},{"p":"S2","e":1.55,"y":20},{"p":"S2","e":1.6,"y":17.5},{"p":"S2","e":1.65,"y":18},{"p":"S2","e":1.7,"y":15.5},{"p":"S2","e":1.75,"y":16},{"p":"S2","e":1.8,"y":13.5},{"p":"S2","e":1.85,"y":14},{"p":"S2","e":1.9,"y":12},{"p":"S2","e":1.95,"y":12},{"p":"S2","e":2,"y":10},{"p":"S2","e":2.05,"y":10.5},{"p":"S2","e":2.1,"y":8.5},{"p":"S2","e":2.15,"y":9},{"p":"S2","e":2.2,"y":7.5},{"p":"S2","e":2.25,"y":8},{"p":"S2","e":2.3,"y":6.5},{"p":"S2","e":2.35,"y":7},{"p":"S2","e":2.4,"y":5.5},{"p":"S2","e":2.45,"y":6.5},{"p":"S2","e":2.5,"y":5},{"p":"S2","e":2.55,"y":5.5},{"p":"S2","e":2.6,"y":4.5},{"p":"S2","e":2.65,"y":5},{"p":"S2","e":2.7,"y":3.8},{"p":"S2","e":2.75,"y":4.2},{"p":"S2","e":2.8,"y":3.2},{"p":"S2","e":2.85,"y":3.6},{"p":"S2","e":2.9,"y":2.6},{"p":"S2","e":2.95,"y":3},{"p":"S2","e":3,"y":2.2},{"p":"S2","e":3.05,"y":2.4},{"p":"S2","e":3.1,"y":1.6},{"p":"S2","e":3.15,"y":2},{"p":"S2","e":3.2,"y":1.3},{"p":"S2","e":3.25,"y":1.6},{"p":"S2","e":3.3,"y":1},{"p":"S2","e":3.35,"y":1.4},{"p":"S2","e":3.4,"y":0.8},{"p":"S2","e":3.45,"y":1.2},{"p":"S2","e":3.5,"y":0.7},{"p":"S2","e":3.55,"y":1.5},{"p":"S2","e":3.6,"y":0.6},{"p":"S2","e":3.65,"y":1},{"p":"S2","e":3.7,"y":0.5},{"p":"S2","e":3.75,"y":1.2},{"p":"S2","e":3.8,"y":0.5},{"p":"S2","e":3.85,"y":1},{"p":"S2","e":3.9,"y":0.4},{"p":"S2","e":3.95,"y":1},{"p":"S2","e":4,"y":0.8},
{"p":"S3","e":0,"y":6},{"p":"S3","e":0.01,"y":4.5},{"p":"S3","e":0.05,"y":5.5},{"p":"S3","e":0.1,"y":4.5},{"p":"S3","e":0.15,"y":6},{"p":"S3","e":0.2,"y":5.5},{"p":"S3","e":0.25,"y":7},{"p":"S3","e":0.3,"y":6.5},{"p":"S3","e":0.35,"y":9.5},{"p":"S3","e":0.4,"y":7},{"p":"S3","e":0.45,"y":8},{"p":"S3","e":0.5,"y":7.5},{"p":"S3","e":0.55,"y":9},{"p":"S3","e":0.6,"y":11},{"p":"S3","e":0.65,"y":13},{"p":"S3","e":0.7,"y":14},{"p":"S3","e":0.75,"y":16},{"p":"S3","e":0.8,"y":17},{"p":"S3","e":0.85,"y":19},{"p":"S3","e":0.9,"y":20},{"p":"S3","e":0.95,"y":22},{"p":"S3","e":1,"y":19.5},{"p":"S3","e":1.05,"y":24},{"p":"S3","e":1.1,"y":21},{"p":"S3","e":1.15,"y":23},{"p":"S3","e":1.2,"y":20.5},{"p":"S3","e":1.25,"y":22},{"p":"S3","e":1.3,"y":19},{"p":"S3","e":1.35,"y":21},{"p":"S3","e":1.4,"y":18},{"p":"S3","e":1.45,"y":19.5},{"p":"S3","e":1.5,"y":17},{"p":"S3","e":1.55,"y":18},{"p":"S3","e":1.6,"y":15.5},{"p":"S3","e":1.65,"y":16.5},{"p":"S3","e":1.7,"y":14},{"p":"S3","e":1.75,"y":15},{"p":"S3","e":1.8,"y":12.5},{"p":"S3","e":1.85,"y":14.5},{"p":"S3","e":1.9,"y":12},{"p":"S3","e":1.95,"y":13.5},{"p":"S3","e":2,"y":12.5},{"p":"S3","e":2.05,"y":14},{"p":"S3","e":2.1,"y":12},{"p":"S3","e":2.15,"y":13},{"p":"S3","e":2.2,"y":11.5},{"p":"S3","e":2.25,"y":13.5},{"p":"S3","e":2.3,"y":12},{"p":"S3","e":2.35,"y":13},{"p":"S3","e":2.4,"y":11},{"p":"S3","e":2.45,"y":13.5},{"p":"S3","e":2.5,"y":12},{"p":"S3","e":2.55,"y":11},{"p":"S3","e":2.6,"y":13},{"p":"S3","e":2.65,"y":11.5},{"p":"S3","e":2.7,"y":12.5},{"p":"S3","e":2.75,"y":11},{"p":"S3","e":2.8,"y":13},{"p":"S3","e":2.85,"y":12},{"p":"S3","e":2.9,"y":14},{"p":"S3","e":2.95,"y":13},{"p":"S3","e":3,"y":15},{"p":"S3","e":3.01,"y":22},{"p":"S3","e":3.05,"y":13},{"p":"S3","e":3.1,"y":12},{"p":"S3","e":3.15,"y":11.5},{"p":"S3","e":3.2,"y":12},{"p":"S3","e":3.25,"y":10},{"p":"S3","e":3.3,"y":10.5},{"p":"S3","e":3.35,"y":9},{"p":"S3","e":3.4,"y":9.5},{"p":"S3","e":3.45,"y":8},{"p":"S3","e":3.5,"y":8.5},{"p":"S3","e":3.55,"y":7},{"p":"S3","e":3.6,"y":7.5},{"p":"S3","e":3.65,"y":6},{"p":"S3","e":3.7,"y":6.5},{"p":"S3","e":3.75,"y":5},{"p":"S3","e":3.8,"y":5.5},{"p":"S3","e":3.85,"y":4.5},{"p":"S3","e":3.9,"y":5},{"p":"S3","e":3.95,"y":3.8},{"p":"S3","e":4,"y":4},
{"p":"S4","e":0,"y":5},{"p":"S4","e":0.01,"y":2.5},{"p":"S4","e":0.05,"y":3},{"p":"S4","e":0.1,"y":2},{"p":"S4","e":0.15,"y":2.5},{"p":"S4","e":0.2,"y":1.5},{"p":"S4","e":0.25,"y":2.5},{"p":"S4","e":0.3,"y":2},{"p":"S4","e":0.35,"y":3.5},{"p":"S4","e":0.4,"y":2.5},{"p":"S4","e":0.45,"y":3.5},{"p":"S4","e":0.5,"y":3},{"p":"S4","e":0.55,"y":4},{"p":"S4","e":0.6,"y":3.5},{"p":"S4","e":0.65,"y":5},{"p":"S4","e":0.7,"y":5.5},{"p":"S4","e":0.75,"y":7},{"p":"S4","e":0.8,"y":6.5},{"p":"S4","e":0.85,"y":9},{"p":"S4","e":0.9,"y":8},{"p":"S4","e":0.95,"y":10.5},{"p":"S4","e":1,"y":10},{"p":"S4","e":1.05,"y":12.5},{"p":"S4","e":1.1,"y":12},{"p":"S4","e":1.15,"y":15},{"p":"S4","e":1.2,"y":14},{"p":"S4","e":1.25,"y":17},{"p":"S4","e":1.3,"y":15.5},{"p":"S4","e":1.35,"y":18},{"p":"S4","e":1.4,"y":16},{"p":"S4","e":1.45,"y":18.5},{"p":"S4","e":1.5,"y":16.5},{"p":"S4","e":1.55,"y":19},{"p":"S4","e":1.6,"y":17},{"p":"S4","e":1.65,"y":18.5},{"p":"S4","e":1.7,"y":17},{"p":"S4","e":1.75,"y":19},{"p":"S4","e":1.8,"y":17.5},{"p":"S4","e":1.85,"y":19.5},{"p":"S4","e":1.9,"y":18.5},{"p":"S4","e":1.95,"y":21},{"p":"S4","e":2,"y":21.5},{"p":"S4","e":2.05,"y":24},{"p":"S4","e":2.1,"y":23},{"p":"S4","e":2.15,"y":26},{"p":"S4","e":2.2,"y":25},{"p":"S4","e":2.25,"y":27},{"p":"S4","e":2.28,"y":35},{"p":"S4","e":2.3,"y":26},{"p":"S4","e":2.35,"y":27},{"p":"S4","e":2.4,"y":25.5},{"p":"S4","e":2.45,"y":27},{"p":"S4","e":2.5,"y":33},{"p":"S4","e":2.52,"y":25},{"p":"S4","e":2.55,"y":23.5},{"p":"S4","e":2.6,"y":23},{"p":"S4","e":2.65,"y":21.5},{"p":"S4","e":2.7,"y":20},{"p":"S4","e":2.75,"y":19},{"p":"S4","e":2.8,"y":17},{"p":"S4","e":2.85,"y":16.5},{"p":"S4","e":2.9,"y":15},{"p":"S4","e":2.95,"y":14},{"p":"S4","e":3,"y":13},{"p":"S4","e":3.05,"y":11.5},{"p":"S4","e":3.1,"y":11},{"p":"S4","e":3.15,"y":9.5},{"p":"S4","e":3.2,"y":9},{"p":"S4","e":3.25,"y":8},{"p":"S4","e":3.3,"y":8},{"p":"S4","e":3.35,"y":7},{"p":"S4","e":3.4,"y":7.5},{"p":"S4","e":3.45,"y":6},{"p":"S4","e":3.5,"y":6.5},{"p":"S4","e":3.55,"y":5.5},{"p":"S4","e":3.6,"y":6},{"p":"S4","e":3.65,"y":4.5},{"p":"S4","e":3.7,"y":5},{"p":"S4","e":3.75,"y":4}
]
},
"config": {
"view": {"stroke": null},
"title": {"font": "Open Sans", "fontSize": 25, "fontWeight": "normal", "color": "#000", "anchor": "middle", "frame": "group", "offset": 20},
"axis": {"grid": false, "domainColor": "#000", "tickColor": "#000", "labelFont": "Liberation Sans", "labelFontSize": 6.5, "labelColor": "#333", "titleFont": "Liberation Sans", "titleFontSize": 6.5, "titleFontWeight": "normal", "titleColor": "#333", "labelOverlap": false, "labelFlush": false, "labelPadding": 1, "titlePadding": 2},
"axisX": {"tickSize": 3},
"axisY": {"tickSize": 2, "labelAngle": 270, "labelAlign": "center", "labelBaseline": "bottom"}
}
}
